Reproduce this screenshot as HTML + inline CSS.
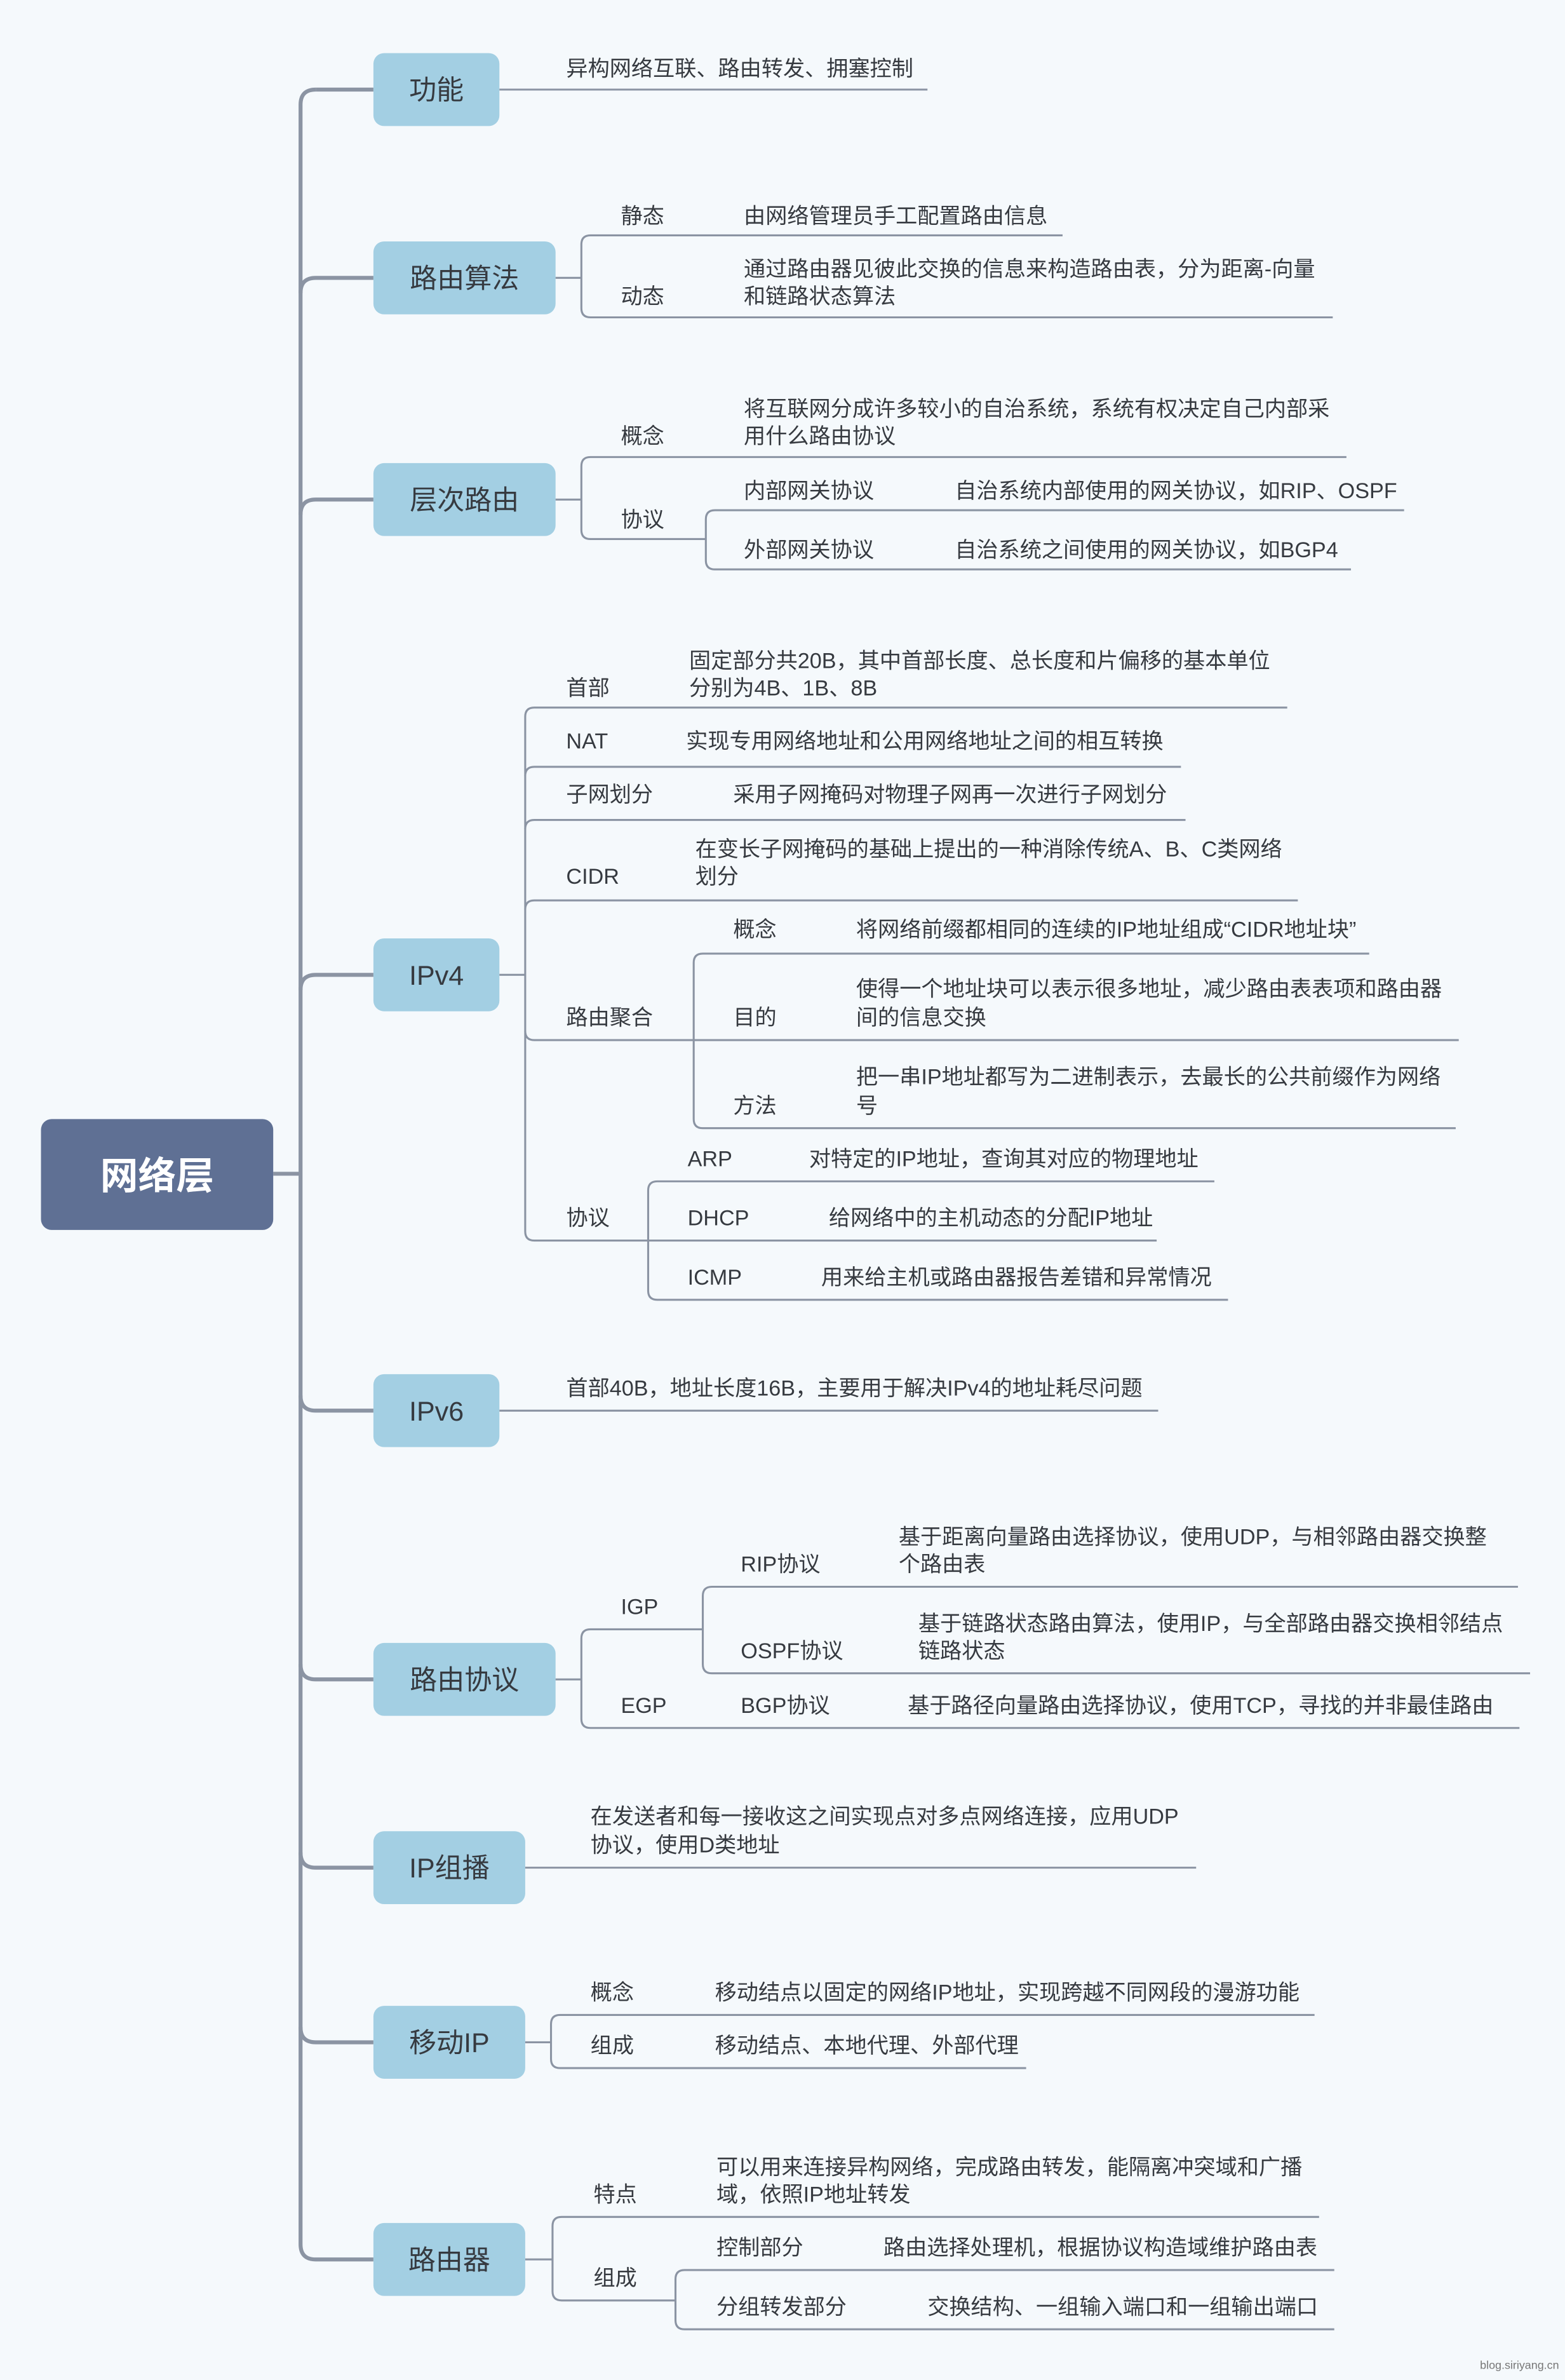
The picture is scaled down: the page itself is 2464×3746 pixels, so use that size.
<!DOCTYPE html>
<html><head><meta charset="utf-8"><style>
html,body{margin:0;padding:0;background:#f5f9fc;}
svg{display:block;}
text{font-family:"Liberation Sans","Noto Sans CJK SC",sans-serif;fill:#363a40;}
.l{font-size:14.3px;}
.n{font-size:18px;}
path,line{fill:none;stroke:#8b94a3;stroke-width:1.3;}
.t{stroke:#8b94a3;stroke-width:2.6;}
</style></head><body>
<svg width="2464" height="3746" viewBox="0 0 1031 1567.4" preserveAspectRatio="none" xmlns="http://www.w3.org/2000/svg">
<rect x="0" y="0" width="1031" height="1567.4" fill="#f5f9fc" style="stroke:none"/>
<!-- trunk -->
<path class="t" d="M208,59 Q198,59 198,69 L198,1478 Q198,1488 208,1488 L246,1488"/>
<line class="t" x1="208" y1="59" x2="246" y2="59"/>
<line class="t" x1="180" y1="773" x2="198" y2="773"/>
<path class="t" d="M198,193 Q198,183 208,183 L246,183"/>
<path class="t" d="M198,339 Q198,329 208,329 L246,329"/>
<path class="t" d="M198,652 Q198,642 208,642 L246,642"/>
<path class="t" d="M198,919 Q198,929 208,929 L246,929"/>
<path class="t" d="M198,1096 Q198,1106 208,1106 L246,1106"/>
<path class="t" d="M198,1220 Q198,1230 208,1230 L246,1230"/>
<path class="t" d="M198,1335 Q198,1345 208,1345 L246,1345"/>

<!-- root -->
<rect x="27" y="737" width="153" height="73" rx="7" fill="#5f7094" style="stroke:none"/>
<text x="103.5" y="783" text-anchor="middle" style="font-size:25px;font-weight:bold;fill:#fff">网络层</text>

<!-- 功能 -->
<rect x="246" y="35" width="83" height="48" rx="7" fill="#a3cfe3" style="stroke:none"/>
<text class="n" x="287.5" y="65.5" text-anchor="middle">功能</text>
<line x1="329" y1="59" x2="611" y2="59"/>
<text class="l" x="373" y="50">异构网络互联、路由转发、拥塞控制</text>

<!-- 路由算法 -->
<rect x="246" y="159" width="120" height="48" rx="7" fill="#a3cfe3" style="stroke:none"/>
<text class="n" x="306" y="189.5" text-anchor="middle">路由算法</text>
<line x1="366" y1="183" x2="383" y2="183"/>
<path d="M383,161 Q383,155 389,155 L700,155 M383,161 L383,203 Q383,209 389,209 L878,209"/>
<text class="l" x="409" y="147">静态</text>
<text class="l" x="490" y="147">由网络管理员手工配置路由信息</text>
<text class="l" x="409" y="200">动态</text>
<text class="l" x="490" y="182">通过路由器见彼此交换的信息来构造路由表，分为距离-向量</text>
<text class="l" x="490" y="200">和链路状态算法</text>

<!-- 层次路由 -->
<rect x="246" y="305" width="120" height="48" rx="7" fill="#a3cfe3" style="stroke:none"/>
<text class="n" x="306" y="335.5" text-anchor="middle">层次路由</text>
<line x1="366" y1="329" x2="383" y2="329"/>
<path d="M383,307 Q383,301 389,301 L887,301 M383,307 L383,349 Q383,355 389,355 L465,355"/>
<text class="l" x="409" y="292">概念</text>
<text class="l" x="490" y="274">将互联网分成许多较小的自治系统，系统有权决定自己内部采</text>
<text class="l" x="490" y="292">用什么路由协议</text>
<text class="l" x="409" y="347">协议</text>
<path d="M465,342 Q465,336 471,336 L925,336 M465,342 L465,369 Q465,375 471,375 L890,375"/>
<text class="l" x="490" y="328">内部网关协议</text>
<text class="l" x="629" y="328">自治系统内部使用的网关协议，如RIP、OSPF</text>
<text class="l" x="490" y="367">外部网关协议</text>
<text class="l" x="629" y="367">自治系统之间使用的网关协议，如BGP4</text>

<!-- IPv4 -->
<rect x="246" y="618" width="83" height="48" rx="7" fill="#a3cfe3" style="stroke:none"/>
<text class="n" x="287.5" y="648.5" text-anchor="middle">IPv4</text>
<line x1="329" y1="642" x2="346" y2="642"/>
<path d="M346,472 Q346,466 352,466 L848,466 M346,472 L346,811 Q346,817 352,817 L427,817"/>
<path d="M346,511 Q346,505 352,505 L778,505"/>
<path d="M346,546 Q346,540 352,540 L781,540"/>
<path d="M346,599 Q346,593 352,593 L855,593"/>
<path d="M346,679 Q346,685 352,685 L457,685"/>
<text class="l" x="373" y="458">首部</text>
<text class="l" x="454" y="440">固定部分共20B，其中首部长度、总长度和片偏移的基本单位</text>
<text class="l" x="454" y="458">分别为4B、1B、8B</text>
<text class="l" x="373" y="493">NAT</text>
<text class="l" x="452" y="493">实现专用网络地址和公用网络地址之间的相互转换</text>
<text class="l" x="373" y="528">子网划分</text>
<text class="l" x="483" y="528">采用子网掩码对物理子网再一次进行子网划分</text>
<text class="l" x="373" y="582">CIDR</text>
<text class="l" x="458" y="564">在变长子网掩码的基础上提出的一种消除传统A、B、C类网络</text>
<text class="l" x="458" y="582">划分</text>
<text class="l" x="373" y="675">路由聚合</text>
<path d="M457,634 Q457,628 463,628 L902,628 M457,634 L457,737 Q457,743 463,743 L959,743 M457,685 L961,685"/>
<text class="l" x="483" y="617">概念</text>
<text class="l" x="564" y="617">将网络前缀都相同的连续的IP地址组成“CIDR地址块”</text>
<text class="l" x="483" y="675">目的</text>
<text class="l" x="564" y="656">使得一个地址块可以表示很多地址，减少路由表表项和路由器</text>
<text class="l" x="564" y="675">间的信息交换</text>
<text class="l" x="483" y="733">方法</text>
<text class="l" x="564" y="714">把一串IP地址都写为二进制表示，去最长的公共前缀作为网络</text>
<text class="l" x="564" y="733">号</text>
<text class="l" x="373" y="807">协议</text>
<path d="M427,784 Q427,778 433,778 L800,778 M427,784 L427,850 Q427,856 433,856 L809,856 M427,817 L762,817"/>
<text class="l" x="453" y="768">ARP</text>
<text class="l" x="533" y="768">对特定的IP地址，查询其对应的物理地址</text>
<text class="l" x="453" y="807">DHCP</text>
<text class="l" x="546" y="807">给网络中的主机动态的分配IP地址</text>
<text class="l" x="453" y="846">ICMP</text>
<text class="l" x="541" y="846">用来给主机或路由器报告差错和异常情况</text>

<!-- IPv6 -->
<rect x="246" y="905" width="83" height="48" rx="7" fill="#a3cfe3" style="stroke:none"/>
<text class="n" x="287.5" y="935.5" text-anchor="middle">IPv6</text>
<line x1="329" y1="929" x2="763" y2="929"/>
<text class="l" x="373" y="919">首部40B，地址长度16B，主要用于解决IPv4的地址耗尽问题</text>

<!-- 路由协议 -->
<rect x="246" y="1082" width="120" height="48" rx="7" fill="#a3cfe3" style="stroke:none"/>
<text class="n" x="306" y="1112.5" text-anchor="middle">路由协议</text>
<line x1="366" y1="1106" x2="383" y2="1106"/>
<path d="M383,1079 Q383,1073 389,1073 L463,1073 M383,1079 L383,1132 Q383,1138 389,1138 L1001,1138"/>
<text class="l" x="409" y="1063">IGP</text>
<path d="M463,1051 Q463,1045 469,1045 L1000,1045 M463,1051 L463,1096 Q463,1102 469,1102 L1008,1102"/>
<text class="l" x="488" y="1035">RIP协议</text>
<text class="l" x="592" y="1017">基于距离向量路由选择协议，使用UDP，与相邻路由器交换整</text>
<text class="l" x="592" y="1035">个路由表</text>
<text class="l" x="488" y="1092">OSPF协议</text>
<text class="l" x="605" y="1074">基于链路状态路由算法，使用IP，与全部路由器交换相邻结点</text>
<text class="l" x="605" y="1092">链路状态</text>
<text class="l" x="409" y="1128">EGP</text>
<text class="l" x="488" y="1128">BGP协议</text>
<text class="l" x="598" y="1128">基于路径向量路由选择协议，使用TCP，寻找的并非最佳路由</text>

<!-- IP组播 -->
<rect x="246" y="1206" width="100" height="48" rx="7" fill="#a3cfe3" style="stroke:none"/>
<text class="n" x="296" y="1236.5" text-anchor="middle">IP组播</text>
<line x1="346" y1="1230" x2="788" y2="1230"/>
<text class="l" x="389" y="1201">在发送者和每一接收这之间实现点对多点网络连接，应用UDP</text>
<text class="l" x="389" y="1220">协议，使用D类地址</text>

<!-- 移动IP -->
<rect x="246" y="1321" width="100" height="48" rx="7" fill="#a3cfe3" style="stroke:none"/>
<text class="n" x="296" y="1351.5" text-anchor="middle">移动IP</text>
<line x1="346" y1="1345" x2="363" y2="1345"/>
<path d="M363,1333 Q363,1327 369,1327 L866,1327 M363,1333 L363,1356 Q363,1362 369,1362 L676,1362"/>
<text class="l" x="389" y="1317">概念</text>
<text class="l" x="471" y="1317">移动结点以固定的网络IP地址，实现跨越不同网段的漫游功能</text>
<text class="l" x="389" y="1352">组成</text>
<text class="l" x="471" y="1352">移动结点、本地代理、外部代理</text>

<!-- 路由器 -->
<rect x="246" y="1464" width="100" height="48" rx="7" fill="#a3cfe3" style="stroke:none"/>
<text class="n" x="296" y="1494.5" text-anchor="middle">路由器</text>
<line x1="346" y1="1488" x2="364" y2="1488"/>
<path d="M364,1466 Q364,1460 370,1460 L869,1460 M364,1466 L364,1509 Q364,1515 370,1515 L445,1515"/>
<text class="l" x="391" y="1450">特点</text>
<text class="l" x="472" y="1432">可以用来连接异构网络，完成路由转发，能隔离冲突域和广播</text>
<text class="l" x="472" y="1450">域，依照IP地址转发</text>
<text class="l" x="391" y="1505">组成</text>
<path d="M445,1501 Q445,1495 451,1495 L879,1495 M445,1501 L445,1528 Q445,1534 451,1534 L879,1534"/>
<text class="l" x="472" y="1485">控制部分</text>
<text class="l" x="582" y="1485">路由选择处理机，根据协议构造域维护路由表</text>
<text class="l" x="472" y="1524">分组转发部分</text>
<text class="l" x="611" y="1524">交换结构、一组输入端口和一组输出端口</text>

<text x="975" y="1560" style="font-size:7.5px;fill:#777">blog.siriyang.cn</text>
</svg>
</body></html>
